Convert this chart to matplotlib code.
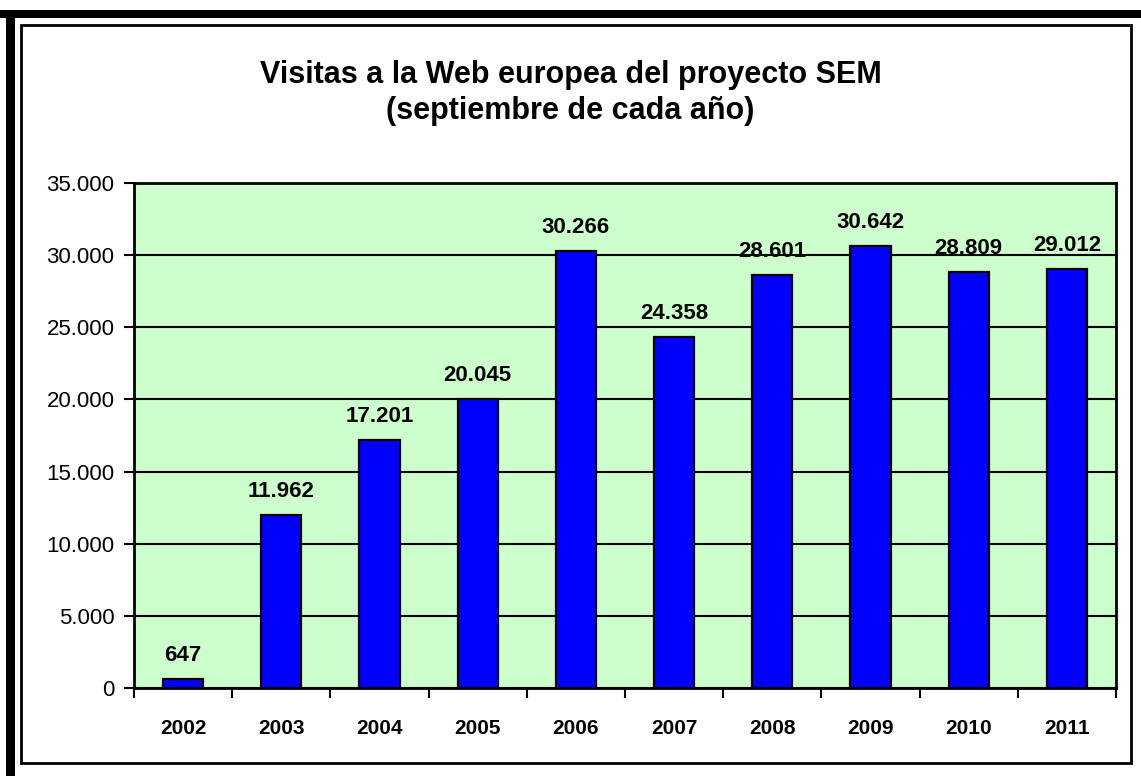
import matplotlib as mpl
mpl.use('Agg')

import matplotlib.pyplot as plt
from matplotlib.patches import Rectangle
from matplotlib.ticker import FuncFormatter, MultipleLocator

years = ['2002', '2003', '2004', '2005', '2006', '2007', '2008', '2009', '2010', '2011']
visits = [647, 11962, 17201, 20045, 30266, 24358, 28601, 30642, 28809, 29012]

plt.rcParams['font.family'] = ['Liberation Sans', 'DejaVu Sans']


def miles(v, pos=None):
    return f'{int(v):,}'.replace(',', '.')


W, H = 1141, 776
fig = plt.figure(figsize=(W / 100, H / 100), dpi=100)
fig.patch.set_facecolor('white')

# marcos: borde grueso (arriba e izquierda) y borde fino interior
fig.add_artist(Rectangle((0, 1 - 18 / H), 1, 8 / H, transform=fig.transFigure,
                         facecolor='black', edgecolor='none'))
fig.add_artist(Rectangle((6 / W, 0), 9 / W, 1 - 10 / H, transform=fig.transFigure,
                         facecolor='black', edgecolor='none'))
fig.add_artist(Rectangle((21 / W, 1 - 763 / H), (1131 - 21) / W, (763 - 25) / H,
                         transform=fig.transFigure, facecolor='none',
                         edgecolor='black', linewidth=2))

ax = fig.add_axes([134 / W, 1 - 688 / H, (1116 - 134) / W, (688 - 183) / H])
ax.set_facecolor('#CCFFCC')

x = range(len(years))
ax.bar(x, visits, width=0.41, color='#0000FF', edgecolor='black', linewidth=1.6, zorder=3)

for xi, v in zip(x, visits):
    ax.text(xi, v + 900, miles(v), ha='center', va='bottom',
            fontsize=16, fontweight='bold', zorder=4)

ax.set_xlim(-0.5, len(years) - 0.5)
ax.set_ylim(0, 35000)
ax.yaxis.set_major_locator(MultipleLocator(5000))
ax.yaxis.set_major_formatter(FuncFormatter(miles))
ax.grid(axis='y', color='black', linewidth=1.5, zorder=1)

ax.set_xticks([i - 0.5 for i in range(len(years) + 1)])
ax.set_xticklabels([])
ax.set_xticks(list(x), minor=True)
ax.set_xticklabels(years, minor=True, fontsize=15, fontweight='bold')
ax.tick_params(axis='x', which='major', length=7, width=1.5, direction='out')
ax.tick_params(axis='x', which='minor', length=0, pad=22)
ax.tick_params(axis='y', length=7, width=1.5, labelsize=16, pad=7)

for s in ax.spines.values():
    s.set_linewidth(2)

fig.text(0.5, 1 - 75 / H, 'Visitas a la Web europea del proyecto SEM',
         ha='center', va='center', fontsize=22, fontweight='bold')
fig.text(0.5, 1 - 111 / H, '(septiembre de cada año)',
         ha='center', va='center', fontsize=22, fontweight='bold')

plt.savefig('out.png', dpi=100)
plt.close()
